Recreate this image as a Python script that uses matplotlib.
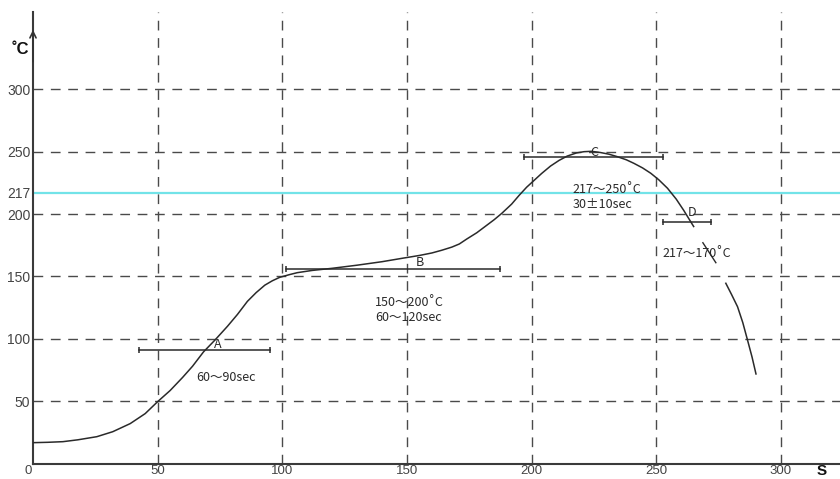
import matplotlib
matplotlib.use("Agg")
import matplotlib.pyplot as plt
from matplotlib.transforms import ScaledTranslation

# ---- data ----
x_ticks = [0, 50, 100, 150, 200, 250, 300]
y_ticks = [50, 100, 150, 200, 250, 300]
y_tick_labels = ["50", "100", "150", "200", "250", "300"]
liquidus = 217

curve_time = [0, 6, 12, 18, 25.6, 32, 39, 45, 50, 55, 60, 64, 68.4, 73, 78, 82, 86,
              89.5, 93, 96, 99, 103, 106, 112, 120, 130, 140, 148, 155, 160, 164, 168,
              171, 174, 178, 182, 185, 188, 192, 195, 198, 201, 204, 207.6, 211, 214.3,
              218, 221, 224, 227.7, 231, 234.4, 238, 241, 244.5, 247.8, 251, 254.5, 258,
              261, 263, 265]
curve_temp = [16.7, 17, 17.5, 19, 21.5, 25.5, 32, 40, 49.6, 58.5, 69, 78, 89.5, 99, 110,
              119.5, 130, 137, 143, 146.5, 149.3, 151.5, 153, 154.8, 156.5, 159, 161.8,
              164.5, 166.8, 168.8, 171, 173.5, 176, 180, 185, 191, 195.5, 200.5, 208,
              215, 221.5, 227, 232.5, 238.5, 243, 246.5, 249, 250, 250.3, 249.3, 248, 246,
              243.5, 240.7, 237, 232.7, 227.5, 220.7, 212, 203, 196.5, 190]
slash_time = [268.7, 273.9]
slash_temp = [177, 161]
cool_time = [277.9, 280.2, 282.6, 284.7, 286.6, 288.4, 290]
cool_temp = [144.5, 135.5, 125.7, 113, 99, 85.5, 71.8]

zone_names = ["A", "B", "C", "D"]
zone_start = [42.6, 101.6, 197, 252.8]
zone_end = [95.2, 187.5, 252.7, 271.8]
zone_level = [90.7, 156, 245.6, 193.9]
zone_label_x = [74.3, 155.2, 225, 264.5]
zone_label_y = [95.5, 161.5, 249.2, 201]

notes = ["60～90sec", "150～200˚C\n60～120sec", "217～250˚C\n30±10sec", "217～170˚C"]
note_x = [65.6, 137.3, 216.3, 252.5]
note_y = [69.1, 122.9, 213.6, 168]

# ---- figure ----
fig = plt.figure(figsize=(8.4, 4.79), dpi=100)
ax = fig.add_axes([33 / 840, 1 - 463.5 / 479, 1 - 33 / 840, (463.5 - 12) / 479])
ax.set_xlim(0, 323.7)
ax.set_ylim(0, 362)

grid_c = "#4a4a4a"
for xv in x_ticks[1:]:
    ax.axvline(xv, color=grid_c, lw=1.0, dashes=(7, 5.5), zorder=1)
for yv in y_ticks:
    ax.axhline(yv, color=grid_c, lw=1.0, dashes=(7, 5.5), zorder=1)

ax.axhline(liquidus, color="#72e3e8", lw=1.6, zorder=2)

ink = "#2a2a2a"
ax.plot(curve_time, curve_temp, color=ink, lw=1.1, zorder=3, solid_joinstyle="round")
ax.plot(slash_time, slash_temp, color=ink, lw=1.0, zorder=3)
ax.plot(cool_time, cool_temp, color=ink, lw=1.1, zorder=3, solid_joinstyle="round")

for n, s0, s1, lv, lx, ly in zip(zone_names, zone_start, zone_end, zone_level,
                                  zone_label_x, zone_label_y):
    ax.plot([s0, s1], [lv, lv], color=ink, lw=1.1, zorder=3)
    ax.plot([s0, s1], [lv, lv], ls="none", marker="|", ms=5, mew=1.1, color=ink, zorder=3)
    ax.text(lx, ly, n, fontsize=9, color=ink, ha="center", va="center",
            family=["Noto Sans CJK SC", "DejaVu Sans"], zorder=4)

for t, nx, ny in zip(notes, note_x, note_y):
    ax.text(nx, ny, t, fontsize=9, color=ink, ha="left", va="center",
            linespacing=1.25, family=["Noto Sans CJK SC", "DejaVu Sans"], zorder=4)

# axes styling
for sp in ["top", "right"]:
    ax.spines[sp].set_visible(False)
for sp in ["left", "bottom"]:
    ax.spines[sp].set_color("#3a3a3a")
    ax.spines[sp].set_linewidth(1.5)

tick_font = ["Liberation Sans Narrow", "Liberation Sans"]
ax.set_yticks(y_ticks + [liquidus])
ax.set_yticklabels(y_tick_labels + [str(liquidus)], family=tick_font, fontsize=10,
                   color="#444444")
ax.set_xticks(x_ticks)
ax.set_xticklabels([str(v) for v in x_ticks], family=tick_font, fontsize=9.5,
                   color="#444444")
ax.tick_params(axis="y", length=0, pad=2)
ax.tick_params(axis="x", length=0, pad=1)
xl0 = ax.get_xticklabels()[0]
xl0.set_transform(xl0.get_transform() + ScaledTranslation(-5 / 100, 0, fig.dpi_scale_trans))

# y axis arrow
ax.annotate("", xy=(0, 350), xytext=(0, 320),
            arrowprops=dict(arrowstyle="->,head_length=0.45,head_width=0.22",
                            lw=1.2, color="#333333"),
            annotation_clip=False, zorder=5)

fig.text(20 / 840, 1 - 49 / 479, "˚C", fontsize=12, fontweight="bold", color="#111111",
         ha="center", va="center", family=["Liberation Sans", "DejaVu Sans"])
fig.text(822 / 840, 1 - 471 / 479, "S", fontsize=11, fontweight="bold", color="#111111",
         ha="center", va="center", family=["Liberation Sans", "DejaVu Sans"])

fig.savefig("out.png", dpi=100)
